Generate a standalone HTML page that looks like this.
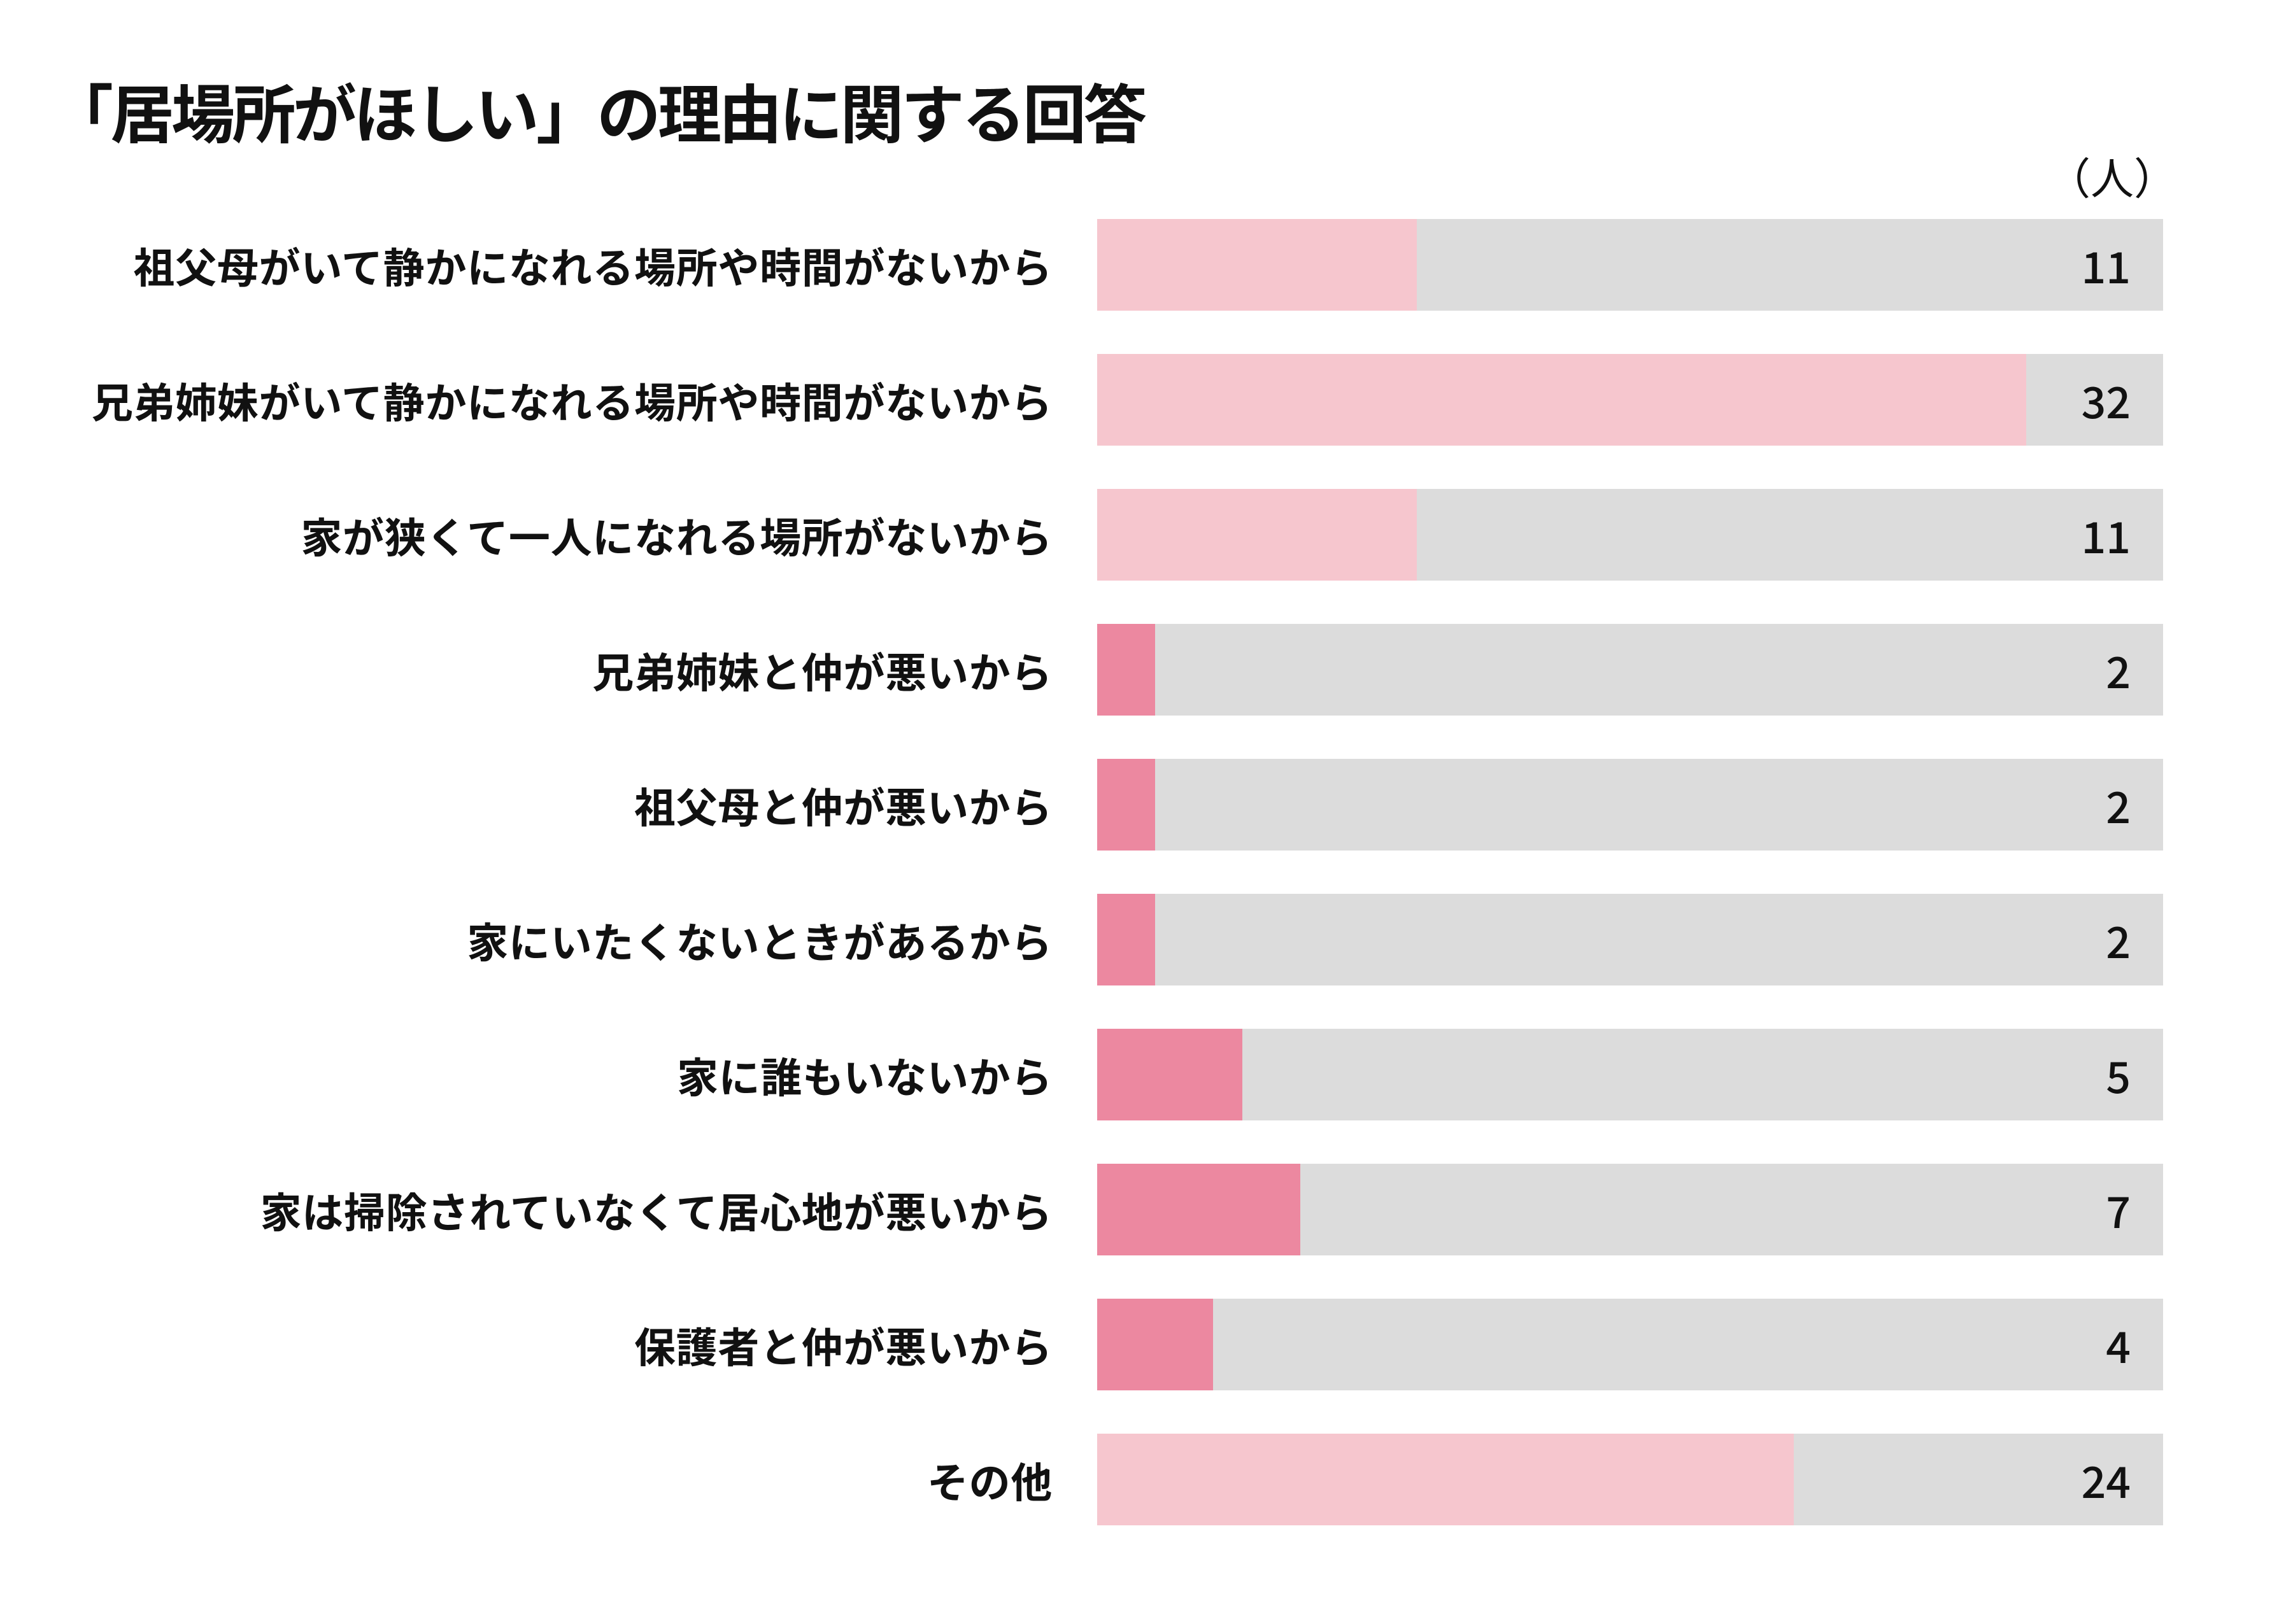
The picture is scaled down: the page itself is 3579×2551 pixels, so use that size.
<!DOCTYPE html>
<html><head><meta charset="utf-8"><style>
html,body{margin:0;padding:0;background:#fff;}
body{width:3579px;height:2551px;position:relative;overflow:hidden;font-family:"Liberation Sans","Noto Sans CJK JP",sans-serif;color:#111;}
.t{position:absolute;left:78px;top:100px;font-size:100px;font-weight:bold;white-space:nowrap;font-family:"Noto Sans CJK JP",sans-serif;letter-spacing:-4.5px;}
.u{position:absolute;right:160px;top:226px;font-size:68px;font-family:"Noto Sans CJK JP",sans-serif;}
.row{position:absolute;left:0;width:3579px;height:144px;}
.lab{position:absolute;right:1926px;top:0;height:144px;line-height:144px;font-size:65px;font-weight:bold;white-space:nowrap;font-family:"Noto Sans CJK JP",sans-serif;letter-spacing:0.7px;}
.bg{position:absolute;left:1723px;width:1674px;top:0;height:144px;background:#dcdcdc;}
.fg{position:absolute;left:1723px;top:0;height:144px;}
.v{position:absolute;right:233px;top:0;height:144px;line-height:144px;font-size:68px;font-family:"Noto Sans CJK JP",sans-serif;font-weight:500;}
</style></head><body>
<div class="t">「居場所がほしい」の理由に関する回答</div>
<div class="u">（人）</div>

<div class="row" style="top:344px"><div class="lab">祖父母がいて静かになれる場所や時間がないから</div><div class="bg"></div><div class="fg" style="width:502px;background:#f6c6ce"></div><div class="v">11</div></div>
<div class="row" style="top:556px"><div class="lab">兄弟姉妹がいて静かになれる場所や時間がないから</div><div class="bg"></div><div class="fg" style="width:1459px;background:#f6c6ce"></div><div class="v">32</div></div>
<div class="row" style="top:768px"><div class="lab">家が狭くて一人になれる場所がないから</div><div class="bg"></div><div class="fg" style="width:502px;background:#f6c6ce"></div><div class="v">11</div></div>
<div class="row" style="top:980px"><div class="lab">兄弟姉妹と仲が悪いから</div><div class="bg"></div><div class="fg" style="width:91px;background:#ec88a0"></div><div class="v">2</div></div>
<div class="row" style="top:1192px"><div class="lab">祖父母と仲が悪いから</div><div class="bg"></div><div class="fg" style="width:91px;background:#ec88a0"></div><div class="v">2</div></div>
<div class="row" style="top:1404px"><div class="lab">家にいたくないときがあるから</div><div class="bg"></div><div class="fg" style="width:91px;background:#ec88a0"></div><div class="v">2</div></div>
<div class="row" style="top:1616px"><div class="lab">家に誰もいないから</div><div class="bg"></div><div class="fg" style="width:228px;background:#ec88a0"></div><div class="v">5</div></div>
<div class="row" style="top:1828px"><div class="lab">家は掃除されていなくて居心地が悪いから</div><div class="bg"></div><div class="fg" style="width:319px;background:#ec88a0"></div><div class="v">7</div></div>
<div class="row" style="top:2040px"><div class="lab">保護者と仲が悪いから</div><div class="bg"></div><div class="fg" style="width:182px;background:#ec88a0"></div><div class="v">4</div></div>
<div class="row" style="top:2252px"><div class="lab">その他</div><div class="bg"></div><div class="fg" style="width:1094px;background:#f6c6ce"></div><div class="v">24</div></div>
</body></html>
